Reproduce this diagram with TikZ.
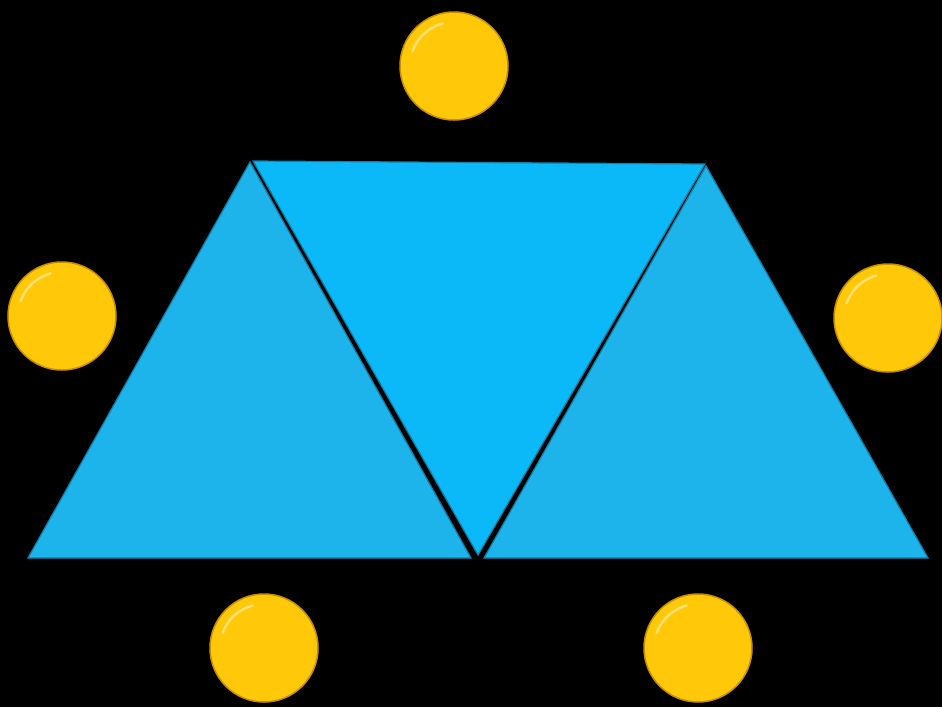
\documentclass[tikz,border=0pt]{standalone}
\usetikzlibrary{shadings}
\definecolor{tri}{HTML}{1DB4EC}
\definecolor{trimid}{HTML}{0BB8F8}
\definecolor{triedge}{HTML}{0E7FA8}
\definecolor{gold}{HTML}{FFC90A}
\definecolor{golddark}{HTML}{C98E00}
\definecolor{goldlight}{HTML}{FFE070}
\begin{document}
\begin{tikzpicture}[x=1pt,y=-1pt,
  triangle/.style={fill=tri,draw=triedge,line width=1.2pt,line join=miter},
  midtriangle/.style={fill=trimid,draw=triedge,line width=1.2pt,line join=miter},
  ball/.style={circle,minimum size=108pt,inner sep=0pt,draw=golddark,line width=1.5pt,fill=gold},
  glint/.style={draw=goldlight,line width=2.5pt,line cap=round}]
\fill[black] (0,0) rectangle (942,707);
\useasboundingbox (0,0) rectangle (942,707);
% triangles
\coordinate (L1) at (28,558);
\coordinate (L2) at (250,162);
\coordinate (L3) at (471,558);
\coordinate (M1) at (253,161);
\coordinate (M2) at (705,164);
\coordinate (M3) at (478,555);
\coordinate (R1) at (706,166);
\coordinate (R2) at (484,558);
\coordinate (R3) at (928,558);
\filldraw[triangle] (L1) -- (L2) -- (L3) -- cycle;
\filldraw[midtriangle] (M1) -- (M2) -- (M3) -- cycle;
\filldraw[triangle] (R1) -- (R2) -- (R3) -- cycle;
% balls
\foreach \n/\p in {top/{(454,66)},left/{(62,316)},right/{(888,318)},bl/{(264,648)},br/{(698,648)}}{
  \node[ball] (\n) at \p {};
  \draw[glint] (\n.center) ++(105:44pt) arc[start angle=105,end angle=160,radius=44pt];
}
\end{tikzpicture}
\end{document}
